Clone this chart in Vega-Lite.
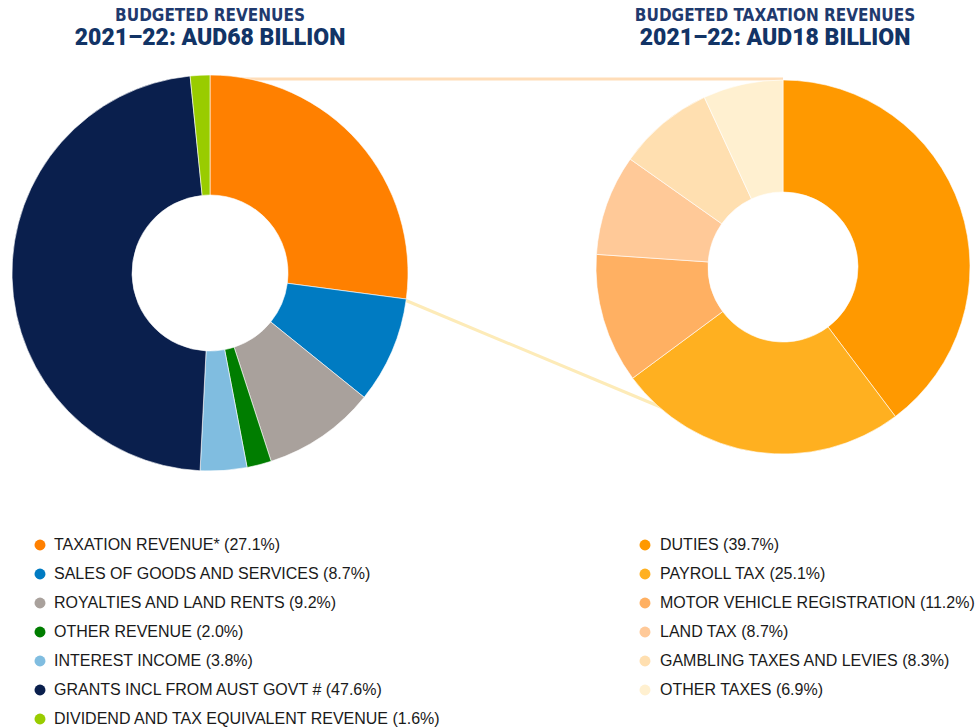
{
  "$schema": "https://vega.github.io/schema/vega-lite/v6.json",
  "width": 976,
  "height": 728,
  "autosize": {"type": "fit", "contains": "padding"},
  "padding": 0,
  "background": "white",
  "config": {"view": {"stroke": null}, "font": "Liberation Sans"},
  "datasets": {
    "revenues": [
      {"order": 1, "label": "TAXATION REVENUE* (27.1%)", "share": 27.1},
      {"order": 2, "label": "SALES OF GOODS AND SERVICES (8.7%)", "share": 8.7},
      {"order": 3, "label": "ROYALTIES AND LAND RENTS (9.2%)", "share": 9.2},
      {"order": 4, "label": "OTHER REVENUE (2.0%)", "share": 2.0},
      {"order": 5, "label": "INTEREST INCOME (3.8%)", "share": 3.8},
      {"order": 6, "label": "GRANTS INCL FROM AUST GOVT # (47.6%)", "share": 47.6},
      {"order": 7, "label": "DIVIDEND AND TAX EQUIVALENT REVENUE (1.6%)", "share": 1.6}
    ],
    "taxation": [
      {"order": 1, "label": "DUTIES (39.7%)", "share": 39.7},
      {"order": 2, "label": "PAYROLL TAX (25.1%)", "share": 25.1},
      {"order": 3, "label": "MOTOR VEHICLE REGISTRATION (11.2%)", "share": 11.2},
      {"order": 4, "label": "LAND TAX (8.7%)", "share": 8.7},
      {"order": 5, "label": "GAMBLING TAXES AND LEVIES (8.3%)", "share": 8.3},
      {"order": 6, "label": "OTHER TAXES (6.9%)", "share": 6.9}
    ]
  },
  "layer": [
    {
      "data": {"values": [{"link": "top"}]},
      "mark": {"type": "rule", "color": "#FFDDB8", "strokeWidth": 3},
      "encoding": {
        "x": {"datum": 210, "type": "quantitative", "scale": {"domain": [0, 976], "nice": false, "zero": false}, "axis": null},
        "x2": {"datum": 783},
        "y": {"datum": 79, "type": "quantitative", "scale": {"domain": [0, 728], "nice": false, "zero": false, "reverse": true}, "axis": null},
        "y2": {"datum": 79}
      }
    },
    {
      "data": {"values": [{"link": "bottom"}]},
      "mark": {"type": "rule", "color": "#FDEBB8", "strokeWidth": 3},
      "encoding": {
        "x": {"datum": 400, "type": "quantitative", "scale": {"domain": [0, 976], "nice": false, "zero": false}, "axis": null},
        "x2": {"datum": 663},
        "y": {"datum": 298, "type": "quantitative", "scale": {"domain": [0, 728], "nice": false, "zero": false, "reverse": true}, "axis": null},
        "y2": {"datum": 408}
      }
    },
    {
      "data": {"name": "revenues"},
      "mark": {"type": "arc", "innerRadius": 78, "outerRadius": 198, "stroke": "white", "strokeWidth": 0.6},
      "encoding": {
        "x": {"datum": 210, "type": "quantitative", "scale": {"domain": [0, 976], "nice": false, "zero": false}, "axis": null},
        "y": {"datum": 273, "type": "quantitative", "scale": {"domain": [0, 728], "nice": false, "zero": false, "reverse": true}, "axis": null},
        "theta": {"field": "share", "type": "quantitative", "stack": true},
        "order": {"field": "order", "type": "quantitative"},
        "color": {
          "field": "label",
          "type": "nominal",
          "scale": {
            "domain": ["TAXATION REVENUE* (27.1%)", "SALES OF GOODS AND SERVICES (8.7%)", "ROYALTIES AND LAND RENTS (9.2%)", "OTHER REVENUE (2.0%)", "INTEREST INCOME (3.8%)", "GRANTS INCL FROM AUST GOVT # (47.6%)", "DIVIDEND AND TAX EQUIVALENT REVENUE (1.6%)"],
            "range": ["#FF8000", "#007BC2", "#A9A19C", "#007D00", "#80BDE0", "#0A1F4D", "#99CC00"]
          },
          "legend": {
            "title": null, "orient": "none", "legendX": 32, "legendY": 537, "padding": 0,
            "symbolType": "circle", "symbolSize": 120, "symbolStrokeWidth": 0,
            "labelFont": "Liberation Sans", "labelFontSize": 16, "labelColor": "#1a1a1a", "labelLimit": 600,
            "labelOffset": 6, "rowPadding": 13, "direction": "vertical"
          }
        }
      }
    },
    {
      "data": {"name": "taxation"},
      "mark": {"type": "arc", "innerRadius": 75, "outerRadius": 187, "stroke": "white", "strokeWidth": 0.6},
      "encoding": {
        "x": {"datum": 783, "type": "quantitative", "scale": {"domain": [0, 976], "nice": false, "zero": false}, "axis": null},
        "y": {"datum": 267, "type": "quantitative", "scale": {"domain": [0, 728], "nice": false, "zero": false, "reverse": true}, "axis": null},
        "theta": {"field": "share", "type": "quantitative", "stack": true},
        "order": {"field": "order", "type": "quantitative"},
        "color": {
          "field": "label",
          "type": "nominal",
          "scale": {
            "domain": ["DUTIES (39.7%)", "PAYROLL TAX (25.1%)", "MOTOR VEHICLE REGISTRATION (11.2%)", "LAND TAX (8.7%)", "GAMBLING TAXES AND LEVIES (8.3%)", "OTHER TAXES (6.9%)"],
            "range": ["#FF9900", "#FFB020", "#FFB062", "#FFC998", "#FFDFB0", "#FFF0D0"]
          },
          "legend": {
            "title": null, "orient": "none", "legendX": 637, "legendY": 537, "padding": 0,
            "symbolType": "circle", "symbolSize": 120, "symbolStrokeWidth": 0,
            "labelFont": "Liberation Sans", "labelFontSize": 16, "labelColor": "#1a1a1a", "labelLimit": 600,
            "labelOffset": 7, "rowPadding": 13, "direction": "vertical"
          }
        }
      }
    },
    {
      "data": {"values": [{"t": "BUDGETED REVENUES"}]},
      "mark": {"type": "text", "font": "DejaVu Sans Condensed, Liberation Sans, sans-serif", "fontWeight": "bold", "fontSize": 17, "color": "#1F3A6E", "align": "center", "baseline": "alphabetic"},
      "encoding": {
        "x": {"datum": 210, "type": "quantitative", "scale": {"domain": [0, 976], "nice": false, "zero": false}, "axis": null},
        "y": {"datum": 21, "type": "quantitative", "scale": {"domain": [0, 728], "nice": false, "zero": false, "reverse": true}, "axis": null},
        "text": {"field": "t"}
      }
    },
    {
      "data": {"values": [{"t": "2021–22: AUD68 BILLION"}]},
      "mark": {"type": "text", "font": "Roboto", "fontWeight": 900, "fontSize": 23, "color": "#123466", "align": "center", "baseline": "alphabetic"},
      "encoding": {
        "x": {"datum": 210, "type": "quantitative", "scale": {"domain": [0, 976], "nice": false, "zero": false}, "axis": null},
        "y": {"datum": 45, "type": "quantitative", "scale": {"domain": [0, 728], "nice": false, "zero": false, "reverse": true}, "axis": null},
        "text": {"field": "t"}
      }
    },
    {
      "data": {"values": [{"t": "BUDGETED TAXATION REVENUES"}]},
      "mark": {"type": "text", "font": "DejaVu Sans Condensed, Liberation Sans, sans-serif", "fontWeight": "bold", "fontSize": 17, "color": "#1F3A6E", "align": "center", "baseline": "alphabetic"},
      "encoding": {
        "x": {"datum": 775, "type": "quantitative", "scale": {"domain": [0, 976], "nice": false, "zero": false}, "axis": null},
        "y": {"datum": 21, "type": "quantitative", "scale": {"domain": [0, 728], "nice": false, "zero": false, "reverse": true}, "axis": null},
        "text": {"field": "t"}
      }
    },
    {
      "data": {"values": [{"t": "2021–22: AUD18 BILLION"}]},
      "mark": {"type": "text", "font": "Roboto", "fontWeight": 900, "fontSize": 23, "color": "#123466", "align": "center", "baseline": "alphabetic"},
      "encoding": {
        "x": {"datum": 775, "type": "quantitative", "scale": {"domain": [0, 976], "nice": false, "zero": false}, "axis": null},
        "y": {"datum": 45, "type": "quantitative", "scale": {"domain": [0, 728], "nice": false, "zero": false, "reverse": true}, "axis": null},
        "text": {"field": "t"}
      }
    }
  ],
  "resolve": {"scale": {"color": "independent", "theta": "independent"}, "legend": {"color": "independent"}}
}
